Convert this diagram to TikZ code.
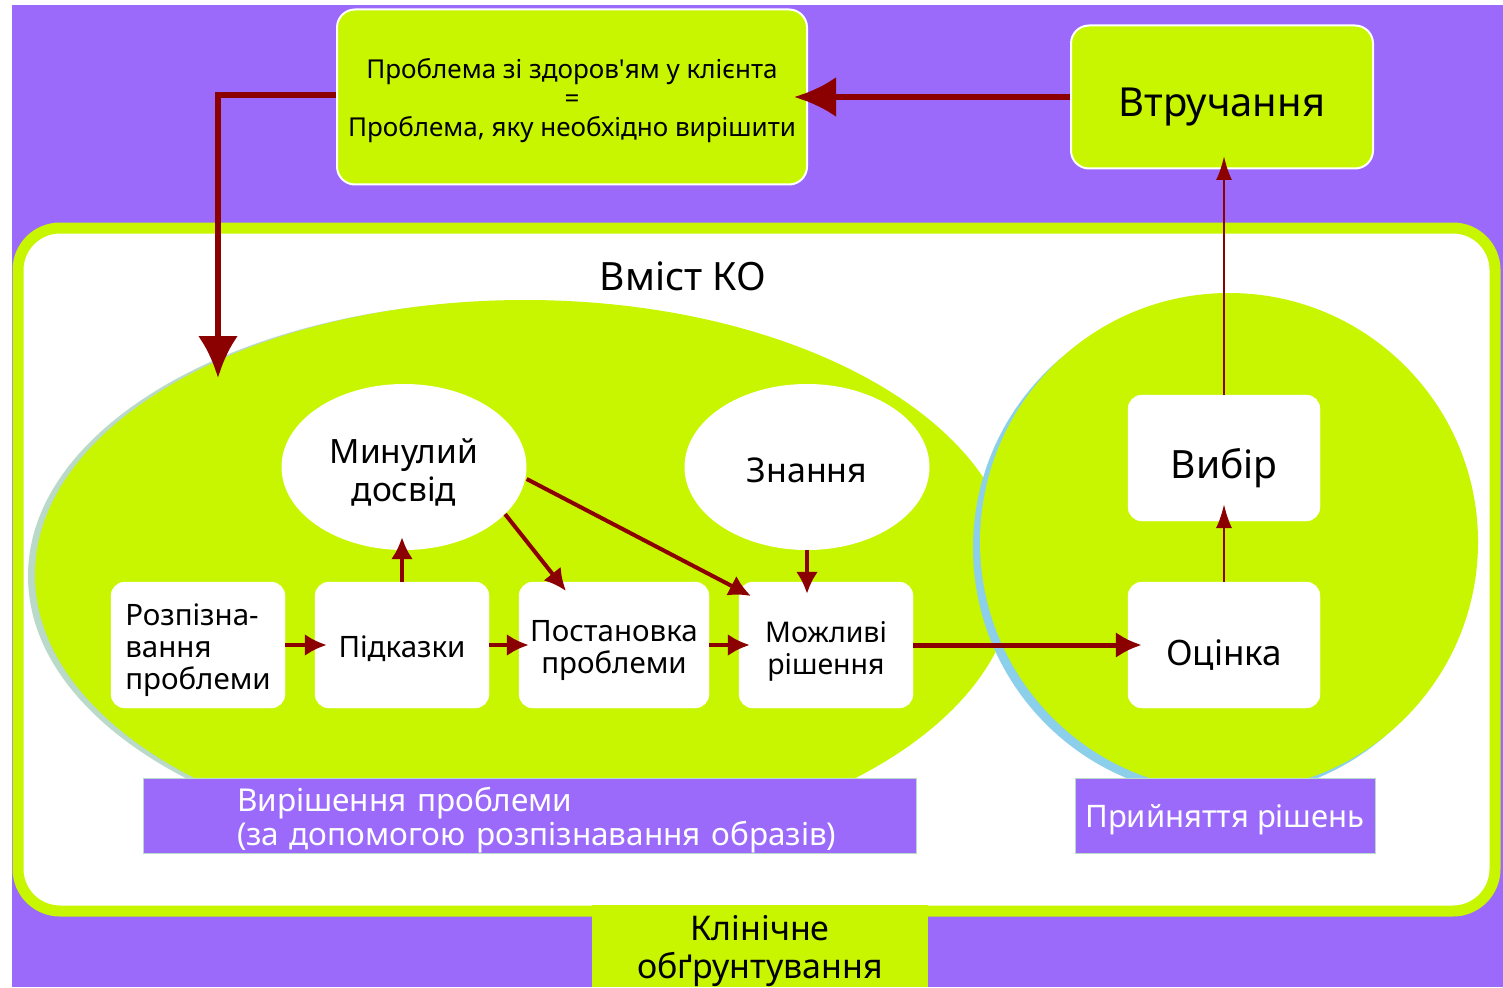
\documentclass[tikz,border=0pt]{standalone}
\usepackage{fontspec}
\setmainfont{Noto Sans}[Ligatures=TeXOff]
\usetikzlibrary{arrows.meta,shapes.geometric}
\definecolor{bgpurple}{HTML}{9B6AFA}
\definecolor{lime}{HTML}{C8F500}
\definecolor{darr}{HTML}{8B0000}
\definecolor{shgray}{HTML}{B9D9C9}
\definecolor{shblue}{HTML}{8CCFEA}
\newcommand{\fs}[2]{\fontsize{#1}{#2}\selectfont}
\tikzset{
  wbox/.style={draw=white, fill=white, rounded corners=14pt, minimum width=174pt, minimum height=126pt, inner sep=0pt},
  wov/.style={ellipse, fill=white, draw=none, minimum width=245pt, minimum height=166pt, inner sep=0pt},
  gbox/.style={fill=lime, draw=white, line width=2pt, rounded corners=18pt, inner sep=0pt},
  plabel/.style={fill=bgpurple, draw=shgray, line width=1pt, inner sep=0pt},
  txt/.style={align=center, inner sep=0pt},
  bigarr/.style={draw=darr, line width=6pt, -{Latex[length=42pt,width=40pt]}},
  arr/.style={draw=darr, line width=4pt, -{Latex[length=22pt,width=22pt]}},
  thinarr/.style={draw=darr, line width=2.5pt, -{Latex[length=24pt,width=16pt]}},
}
\begin{document}
\begin{tikzpicture}[x=1pt,y=-1pt]
\useasboundingbox (0,0) rectangle (1503,987);
\fill[white] (0,0) rectangle (1503,987);
\fill[bgpurple] (12,5) rectangle (1503,987);
% main frame
\draw[draw=lime, line width=11pt, fill=white, rounded corners=42pt] (18,228) rectangle (1495,911);
\fill[lime] (592,905) rectangle (928,987);
\node[txt, font=\fs{34}{38}] (klin) at (760,951) {Клінічне\\обґрунтування};
% title
\node[txt, font=\fs{39}{44}] (vmist) at (683,276) {Вміст КО};
% big green shapes with shadows
\fill[shgray] (518,576) ellipse [x radius=490pt, y radius=275pt];
\fill[lime] (525,575) ellipse [x radius=490pt, y radius=275pt];
\fill[shblue] (1222,548) circle [radius=249pt];
\fill[lime] (1229,542) circle [radius=249pt];
% top boxes
\node[gbox, minimum width=470pt, minimum height=175pt,
  label={[txt, font=\fs{26}{29}, yshift=-4pt]center:{Проблема зі здоров'ям у клієнта\\=\\Проблема, яку необхідно вирішити}}] (prob) at (572,97) {};
\node[gbox, minimum width=302pt, minimum height=143pt,
  label={[txt, font=\fs{40}{46}, yshift=-10pt]center:{Втручання}}] (vtr) at (1222,97) {};
% ovals
\node[wov, label={[txt, font=\fs{33.5}{38}, yshift=-5pt]center:{Минулий\\досвід}}] (mynul) at (404,467) {};
\node[wov, label={[txt, font=\fs{34}{38}, yshift=-3pt]center:{Знання}}] (znan) at (807,467) {};
% white boxes
\node[wbox, label={[txt, align=left, font=\fs{29.5}{32}, yshift=-5pt]center:{Розпізна-\\вання\\проблеми}}] (rozp) at (198,645) {};
\node[wbox, label={[txt, font=\fs{29.5}{32}, yshift=-4pt]center:{Підказки}}] (pidk) at (402,645) {};
\node[wbox, minimum width=190pt, label={[txt, font=\fs{29.5}{32}, yshift=-6pt]center:{Постановка\\проблеми}}] (post) at (614,645) {};
\node[wbox, label={[txt, font=\fs{28.5}{32}, yshift=-6pt]center:{Можливі\\рішення}}] (mozh) at (826,645) {};
\node[wbox, minimum width=192pt, label={[txt, font=\fs{35}{40}, yshift=-10pt]center:{Оцінка}}] (otsin) at (1224,645) {};
\node[wbox, minimum width=192pt, label={[txt, font=\fs{39}{44}, yshift=-10pt]center:{Вибір}}] (vybir) at (1224,458) {};
% purple labels
\node[plabel, minimum width=773pt, minimum height=75pt,
  label={[txt, align=left, text=white, font=\fs{31.5}{34}, text width=679pt, xshift=47pt, yshift=-4pt]center:{Вирішення проблеми\\(за допомогою розпізнавання образів)}}] (virish) at (529.5,816) {};
\node[plabel, minimum width=300pt, minimum height=75pt,
  label={[txt, text=white, font=\fs{31}{36}, yshift=-4pt]center:{Прийняття рішень}}] (pryin) at (1225,816) {};
% arrows
\draw[bigarr, shorten >=-14pt] (vtr.west) -- (prob.east);
\coordinate (bend) at (218,95);
\coordinate (dn) at (218,378);
\draw[bigarr] (prob.west |- bend) -- (bend) -- (dn);
\draw[arr, shorten >=-12pt] (rozp.east) -- (pidk.west);
\draw[arr, shorten >=-10pt] (pidk.east) -- (post.west);
\draw[arr, shorten >=-11pt] (post.east) -- (mozh.west);
\draw[arr, shorten >=-13pt] (pidk.north) -- (mynul.south -| pidk.north);
\coordinate (pt1) at (566,591);
\draw[arr] (mynul.-25) -- (pt1);
\coordinate (pt2) at (751,596);
\draw[arr] (mynul.east) ++(0,12) -- (pt2);
\draw[arr, shorten >=-12pt] (znan.south) -- (znan.south |- mozh.north);
\draw[arr, line width=5pt, -{Latex[length=26pt,width=26pt]}, shorten >=-14pt] (mozh.east) -- (mozh.east -| otsin.west);
\coordinate (vb) at (1224,504);
\draw[thinarr] (otsin.north) -- (vb);
\coordinate (vt) at (1224,156);
\draw[thinarr] (vybir.north) -- (vt);
\end{tikzpicture}
\end{document}
